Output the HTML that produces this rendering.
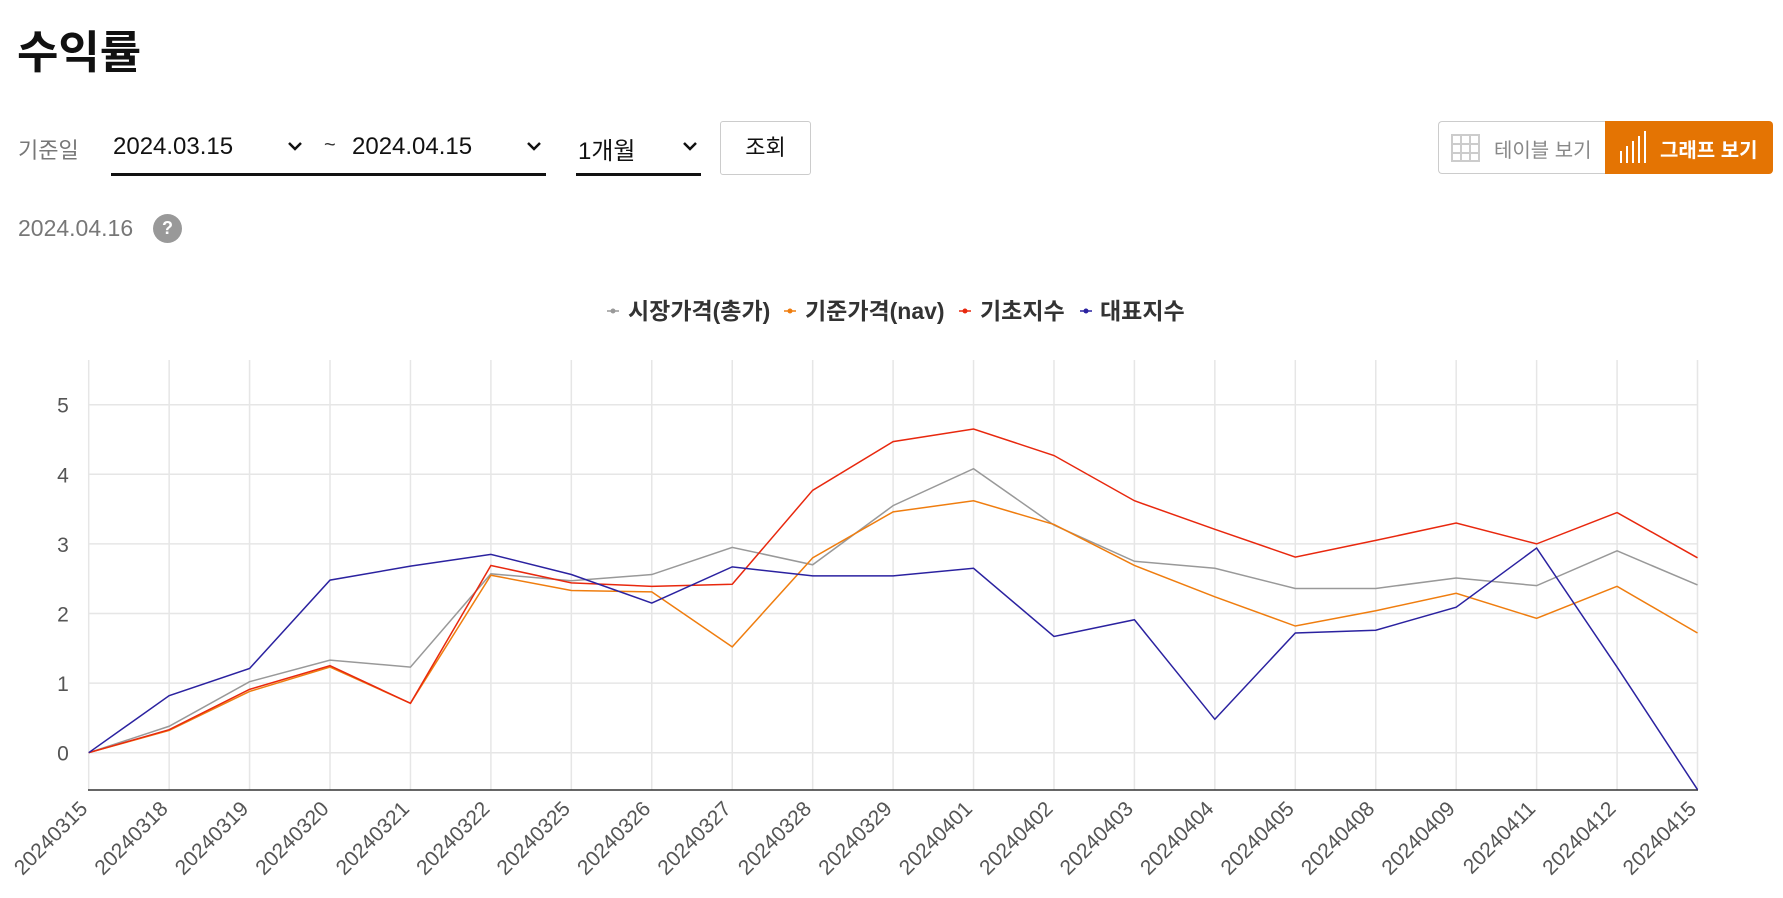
<!DOCTYPE html>
<html><head><meta charset="utf-8"><style>
body{margin:0;width:1783px;height:898px;background:#fff;font-family:"Liberation Sans","Noto Sans CJK KR",sans-serif;position:relative;overflow:hidden}
.a{position:absolute;white-space:nowrap}
</style></head><body>
<div class="a" style="left:17px;top:16px;font-size:45px;font-weight:bold;color:#111">수익률</div>
<div class="a" style="left:18px;top:133px;font-size:22px;color:#777">기준일</div>
<div class="a" style="left:111px;top:122px;width:435px;height:51px;border-bottom:3px solid #111"></div>
<div class="a" style="left:113px;top:133px;font-size:24px;color:#111">2024.03.15</div>
<div class="a" style="left:324px;top:134px;font-size:20px;color:#333">~</div>
<div class="a" style="left:352px;top:133px;font-size:24px;color:#111">2024.04.15</div>
<div class="a" style="left:576px;top:122px;width:125px;height:51px;border-bottom:3px solid #111"></div>
<div class="a" style="left:578px;top:131px;font-size:24px;color:#111">1개월</div>
<svg class="a" style="left:0;top:0" width="1783" height="200">
<g fill="none" stroke="#111" stroke-width="2.5"><path d="M289 143l6 6 6-6M528 143l6 6 6-6M684 143l6 6 6-6"/></g></svg>
<div class="a" style="left:720px;top:121px;width:89px;height:52px;border:1px solid #ccc;border-radius:3px;text-align:center;line-height:52px;font-size:22px;color:#111">조회</div>
<div class="a" style="left:1438px;top:121px;width:167px;height:53px;border:1px solid #ccc;border-right:none;border-radius:4px 0 0 4px;box-sizing:border-box"></div>
<svg class="a" style="left:1450px;top:133px" width="32" height="30"><g stroke="#ccc" stroke-width="2" fill="none"><rect x="2" y="2" width="27" height="26"/><path d="M11 2v26M20 2v26M2 11h27M2 20h27"/></g></svg>
<div class="a" style="left:1494px;top:134px;font-size:20px;color:#888">테이블 보기</div>
<div class="a" style="left:1605px;top:121px;width:168px;height:53px;background:#e47403;border-radius:0 4px 4px 0"></div>
<svg class="a" style="left:1618px;top:131px" width="30" height="34"><g stroke="#fff" stroke-width="2"><path d="M3 32v-12M9 32v-17M15 32v-22M21 32v-27M27 32v-32"/></g></svg>
<div class="a" style="left:1660px;top:134px;font-size:20px;color:#fff;font-weight:bold">그래프 보기</div>
<div class="a" style="left:18px;top:215px;font-size:23px;color:#777">2024.04.16</div>
<div class="a" style="left:153px;top:214px;width:29px;height:29px;border-radius:50%;background:#999;color:#fff;font-weight:bold;font-size:18px;text-align:center;line-height:29px">?</div>
<svg id="c" class="a" style="left:0;top:0" width="1783" height="898"></svg>
<script>
const S=[["시장가격(총가)","#999",[0,0.38,1.02,1.33,1.23,2.57,2.47,2.56,2.95,2.70,3.55,4.08,3.27,2.75,2.65,2.36,2.36,2.51,2.40,2.90,2.41]],
["기준가격(nav)","#ef7d0f",[0,0.32,0.88,1.23,0.71,2.55,2.33,2.31,1.52,2.80,3.46,3.62,3.28,2.69,2.24,1.82,2.04,2.29,1.93,2.39,1.72]],
["기초지수","#e8280e",[0,0.33,0.91,1.25,0.71,2.69,2.44,2.39,2.42,3.77,4.47,4.65,4.27,3.62,3.21,2.81,3.05,3.30,3.00,3.45,2.80]],
["대표지수","#2b22a0",[0,0.82,1.21,2.48,2.68,2.85,2.56,2.15,2.67,2.54,2.54,2.65,1.67,1.91,0.48,1.72,1.76,2.09,2.94,1.23,-0.53]]];
const D=["20240315","20240318","20240319","20240320","20240321","20240322","20240325","20240326","20240327","20240328","20240329","20240401","20240402","20240403","20240404","20240405","20240408","20240409","20240411","20240412","20240415"];
const X=i=>88.7+i*80.44,Y=v=>752.7-v*69.6;let h='';
for(let v=0;v<=5;v++){h+=`<line x1="88" x2="1698" y1="${Y(v)}" y2="${Y(v)}" stroke="#e6e6e6" stroke-width="1.5"/><text x="63" y="${Y(v)+8}" font-size="21" fill="#555" text-anchor="middle">${v}</text>`;}
for(let i=0;i<21;i++){h+=`<line x1="${X(i)}" x2="${X(i)}" y1="360" y2="790" stroke="#e6e6e6" stroke-width="1.5"/><text transform="translate(${X(i)},810) rotate(-45)" font-size="21" fill="#555" text-anchor="end">${D[i]}</text>`;}
h+=`<line x1="88" x2="1698" y1="790" y2="790" stroke="#333" stroke-width="1.5"/>`;
for(const s of S){h+=`<polyline fill="none" stroke="${s[1]}" stroke-width="1.5" points="${s[2].map((v,i)=>X(i)+','+Y(v)).join(' ')}"/>`;}
const L=[[613,628],[790,805],[965,980],[1086,1100]];
S.forEach((s,k)=>{h+=`<line x1="${L[k][0]-6}" x2="${L[k][0]+6}" y1="311" y2="311" stroke="${s[1]}" stroke-width="1.5"/><circle cx="${L[k][0]}" cy="311" r="2.5" fill="${s[1]}"/><text x="${L[k][1]}" y="319" font-size="23" font-weight="bold" fill="#333">${s[0]}</text>`;});
document.getElementById('c').innerHTML=h;
</script>
</body></html>
